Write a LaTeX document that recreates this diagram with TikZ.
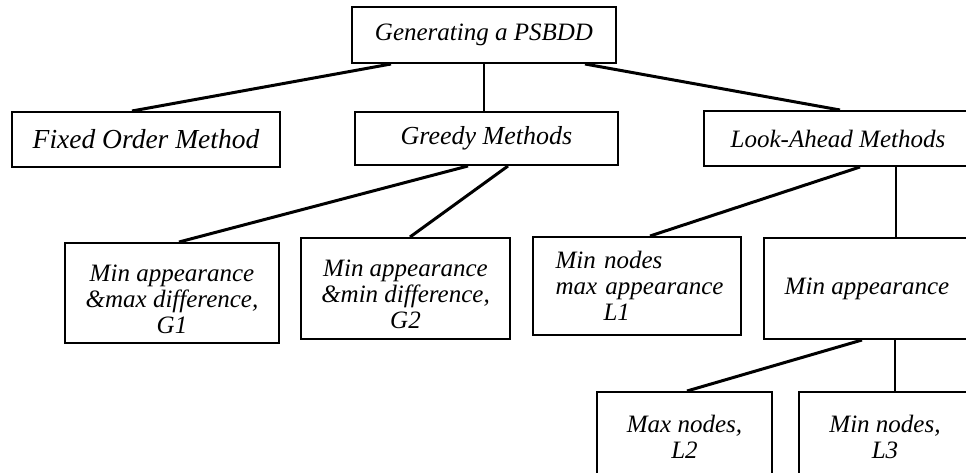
\documentclass[tikz,border=0pt]{standalone}
\usepackage{fontspec}
\setmainfont{Liberation Serif}
\tikzset{
        treenode/.style={align=center, inner sep=2pt, draw=black, line width=2pt,
                font=\itshape\fontsize{25}{26}\selectfont},
        % Root and method nodes
        node_method/.style={treenode, minimum height=55pt},
        % Variant nodes
        node_variant/.style={treenode, minimum height=100pt},
        % Slanted edges
        edge_slant/.style={line width=3pt},
        % Straight edges
        edge_straight/.style={line width=1.6pt}
}
\begin{document}
\begin{tikzpicture}[x=1pt, y=-1pt]
            \useasboundingbox (0,0) rectangle (966,473);
            \clip (0,0) rectangle (966,473);
            % Levels
            \node[node_method, minimum width=264pt, minimum height=56pt] (root) at (484,35) {Generating a PSBDD};
            \node[node_method, minimum width=268pt, font=\itshape\fontsize{27.5}{28}\selectfont] (fixed) at (146,139.5) {Fixed Order Method};
            \node[node_method, minimum width=263pt, minimum height=53pt, font=\itshape\fontsize{26}{27}\selectfont] (greedy) at (486.5,138.5) {Greedy Methods};
            \node[node_method, minimum width=268pt] (look) at (838,138.5) {Look-Ahead Methods};
            \node[node_variant, minimum width=214pt] (g1) at (172,293) {\rule{0pt}{30pt}Min appearance\\\&max difference,\\G1};
            \node[node_variant, minimum width=209pt, minimum height=101pt] (g2) at (405.5,288.5) {\rule{0pt}{28pt}Min appearance\\\&min difference,\\G2};
            \node[node_variant, minimum width=208pt, minimum height=98pt, text width=175pt, align=left] (l1) at (637,286) {\hspace*{6pt}Min nodes\\\hspace*{6pt}max appearance\\\hspace*{54pt}L1};
            \node[node_variant, minimum width=206pt, minimum height=101pt] (minapp) at (867,288.5) {Min appearance};
            \node[node_variant, minimum width=175pt, minimum height=90pt] (l2) at (684.5,437) {Max nodes,\\L2};
            \node[node_variant, minimum width=172pt, minimum height=90pt] (l3) at (885,437) {Min nodes,\\L3};
            % Edges
            \coordinate (lookv) at ([xshift=58pt]look.south);
            \coordinate (minv) at ([xshift=28pt]minapp.south);
            \draw[edge_slant] ([xshift=-93pt]root.south) -- ([xshift=-14pt]fixed.north);
            \draw[edge_straight] (root.south) -- (root.south |- greedy.north);
            \draw[edge_slant] ([xshift=101pt]root.south) -- ([xshift=2pt]look.north);
            \draw[edge_slant] ([xshift=-18.5pt]greedy.south) -- ([xshift=7pt]g1.north);
            \draw[edge_slant] ([xshift=21.5pt]greedy.south) -- ([xshift=4.5pt]g2.north);
            \draw[edge_slant] ([xshift=22pt]look.south) -- ([xshift=13pt]l1.north);
            \draw[edge_straight] (lookv) -- (lookv |- minapp.north);
            \draw[edge_slant] ([xshift=-5pt]minapp.south) -- ([xshift=2.5pt]l2.north);
            \draw[edge_straight] (minv) -- (minv |- l3.north);
        \end{tikzpicture}
\end{document}
